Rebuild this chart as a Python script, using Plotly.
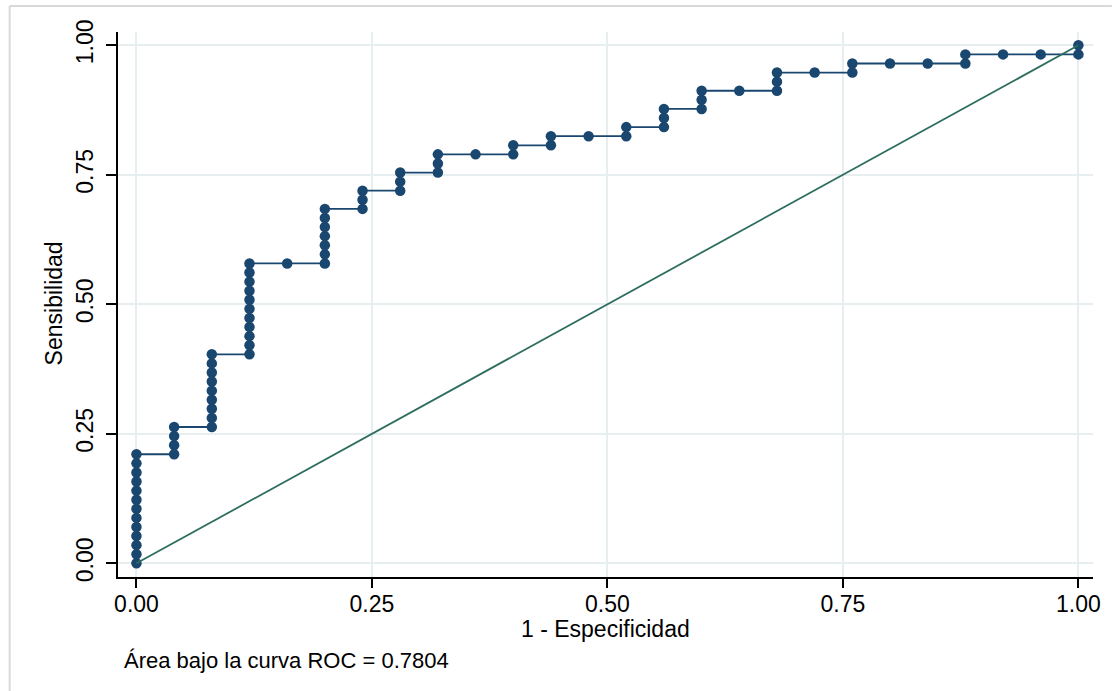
import numpy as np
import plotly.graph_objects as go

# ROC points as counts: false positives out of 25 negatives, true positives out of 57 positives
n_neg = 25
n_pos = 57
fp_count = [0]*13 + [1]*4 + [2]*9 + [3]*11 + [4] + [5]*7 + [6]*3 + [7]*3 + [8]*3 + [9] + \
           [10]*2 + [11]*2 + [12] + [13]*2 + [14]*3 + [15]*3 + [16] + [17]*3 + [18] + \
           [19]*2 + [20] + [21] + [22]*2 + [23] + [24] + [25]*2
tp_count = list(range(0, 13)) + list(range(12, 16)) + list(range(15, 24)) + list(range(23, 34)) + [33] + \
           list(range(33, 40)) + [39, 40, 41] + [41, 42, 43] + [43, 44, 45] + [45] + \
           [45, 46] + [46, 47] + [47] + [47, 48] + [48, 49, 50] + [50, 51, 52] + [52] + [52, 53, 54] + [54] + \
           [54, 55] + [55] + [55] + [55, 56] + [56] + [56] + [56, 57]

x_vals = np.array(fp_count) / n_neg
y_vals = np.array(tp_count) / n_pos

ref_x = [0, 1]
ref_y = [0, 1]

tick_vals = [0, 0.25, 0.5, 0.75, 1.0]
tick_text = ["0.00", "0.25", "0.50", "0.75", "1.00"]
x_title = "1 - Especificidad"
y_title = "Sensibilidad"
auc_text = "Área bajo la curva ROC = 0.7804"

FONT = "Liberation Sans, Arial, sans-serif"
navy = "#1a476f"
green = "#2e6e60"
grid = "#e6eef0"

fig = go.Figure()
fig.add_trace(go.Scatter(
    x=x_vals, y=y_vals, mode="lines+markers",
    line=dict(color=navy, width=1.8),
    marker=dict(color=navy, size=10.5, line=dict(width=0)),
    showlegend=False, hoverinfo="skip"))
fig.add_trace(go.Scatter(
    x=ref_x, y=ref_y, mode="lines",
    line=dict(color=green, width=1.8),
    showlegend=False, hoverinfo="skip"))

W, H = 1113, 691
L, R, T, B = 118, 14, 32, 114
pw, ph = W - L - R, H - T - B

def px_x(p):
    return (p - L) / pw

def px_y(p):
    return (H - B - p) / ph

fig.update_layout(
    width=W, height=H,
    margin=dict(l=L, r=R, t=T, b=B),
    paper_bgcolor="white", plot_bgcolor="white",
    font=dict(family=FONT, color="black", size=23),
    xaxis=dict(
        range=[-0.0196, 1.0155], tickvals=tick_vals, ticktext=tick_text,
        showgrid=True, gridcolor=grid, gridwidth=2, zeroline=False,
        showline=True, linecolor="black", linewidth=1.5,
        ticks="outside", ticklen=9, tickwidth=1.5, tickcolor="black",
        ticklabelstandoff=-3,
        tickfont=dict(size=23, family=FONT),
    ),
    yaxis=dict(
        range=[-0.0264, 1.0257], tickvals=tick_vals, ticktext=tick_text,
        showgrid=True, gridcolor=grid, gridwidth=2, zeroline=False,
        showline=True, linecolor="black", linewidth=1.5,
        ticks="outside", ticklen=10, tickwidth=1.5, tickcolor="black",
        tickangle=-90, ticklabelstandoff=4,
        tickfont=dict(size=23, family=FONT),
    ),
    annotations=[
        dict(text=x_title, xref="paper", yref="paper",
             x=px_x(609), y=px_y(629), xanchor="center", yanchor="middle",
             showarrow=False, font=dict(size=23, family=FONT, color="black")),
        dict(text=y_title, xref="paper", yref="paper", textangle=-90,
             x=px_x(54), y=px_y(303), xanchor="center", yanchor="middle",
             showarrow=False, font=dict(size=23, family=FONT, color="black")),
        dict(text=auc_text, xref="paper", yref="paper",
             x=px_x(122), y=px_y(660), xanchor="left", yanchor="middle",
             showarrow=False, font=dict(size=22, family=FONT, color="black")),
    ],
    shapes=[
        dict(type="line", xref="paper", yref="paper",
             x0=px_x(9), x1=px_x(W + 5), y0=px_y(6), y1=px_y(6),
             line=dict(color="#d9d9d9", width=2)),
        dict(type="line", xref="paper", yref="paper",
             x0=px_x(9), x1=px_x(9), y0=px_y(6), y1=px_y(H + 5),
             line=dict(color="#d9d9d9", width=2)),
    ],
)

fig.write_html("out.html", config={"displayModeBar": False},
               post_script="document.body.style.margin='0';")
